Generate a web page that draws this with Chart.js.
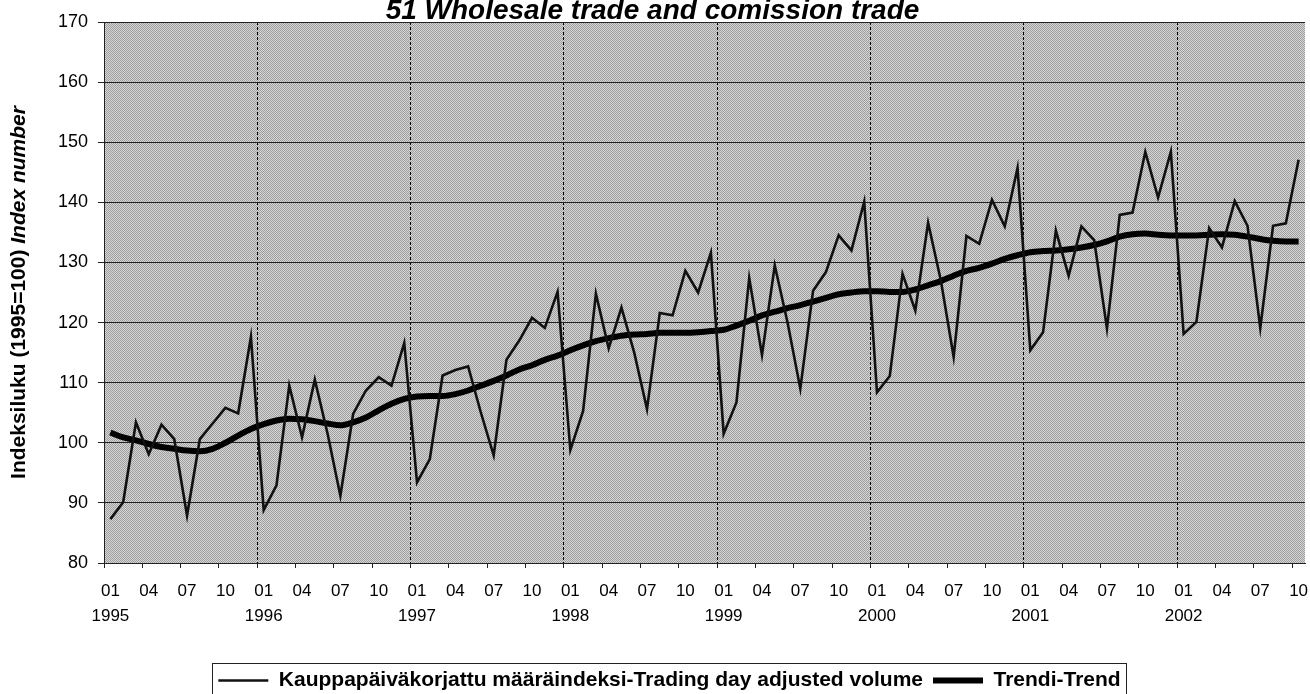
<!DOCTYPE html>
<html>
<head>
<meta charset="utf-8">
<script src="https://cdn.jsdelivr.net/npm/chart.js@4/dist/chart.umd.min.js"></script>
<style>
  html, body { margin: 0; padding: 0; background: #fff; }
  #wrap { width: 1310px; height: 694px; }
</style>
</head>
<body>
<div id="wrap"><canvas id="line_chart" width="1310" height="694"></canvas></div>
<script>
var years = ['1995', '1996', '1997', '1998', '1999', '2000', '2001', '2002'];
var months = ['01', '02', '03', '04', '05', '06', '07', '08', '09', '10', '11', '12'];
var yTicks = [80, 90, 100, 110, 120, 130, 140, 150, 160, 170];

// Kauppapaivakorjattu maaraindeksi, 1995/01 - 2002/10
var volume = [
  87.3, 90.1, 103.4, 98.1, 103.0, 100.6, 87.9, 100.6, 103.2, 105.8, 104.9, 117.6,
  88.8, 92.9, 109.5, 100.9, 110.5, 101.5, 91.2, 104.8, 108.7, 110.9, 109.5, 116.6,
  93.4, 97.3, 111.2, 112.1, 112.7, 105.0, 97.9, 113.8, 117.0, 120.8, 119.1, 125.1,
  98.8, 105.3, 124.8, 115.7, 122.5, 115.0, 105.6, 121.6, 121.2, 128.6, 125.0, 131.6,
  101.5, 106.7, 127.4, 114.6, 129.5, 120.0, 109.0, 125.3, 128.4, 134.5, 132.0, 140.1,
  108.4, 111.1, 128.1, 122.0, 136.6, 127.0, 114.3, 134.4, 133.1, 140.4, 136.0, 145.7,
  115.4, 118.4, 135.3, 127.8, 136.0, 133.7, 119.0, 137.9, 138.3, 148.4, 140.8, 148.4,
  118.1, 120.1, 135.7, 132.5, 140.2, 136.1, 119.1, 136.1, 136.5, 147.1
];
// Trendi
var trend = [
  101.7, 100.9, 100.4, 99.8, 99.3, 99.0, 98.7, 98.6, 99.0, 100.0, 101.2, 102.3,
  103.1, 103.7, 104.0, 103.9, 103.6, 103.2, 102.9, 103.4, 104.2, 105.4, 106.5, 107.3,
  107.7, 107.8, 107.8, 108.1, 108.7, 109.5, 110.3, 111.2, 112.2, 112.9, 113.8, 114.5,
  115.4, 116.2, 116.9, 117.4, 117.8, 118.0, 118.1, 118.3, 118.3, 118.3, 118.4, 118.6,
  118.8, 119.5, 120.3, 121.2, 121.8, 122.4, 122.9, 123.5, 124.1, 124.7, 125.0, 125.2,
  125.2, 125.1, 125.1, 125.5, 126.2, 126.9, 127.8, 128.6, 129.1, 129.8, 130.6, 131.2,
  131.7, 131.9, 132.0, 132.2, 132.5, 132.9, 133.5, 134.3, 134.7, 134.8, 134.6, 134.5,
  134.5, 134.5, 134.6, 134.7, 134.6, 134.3, 133.9, 133.6, 133.5, 133.5
];

var labels = [];
years.forEach(function (y) {
  months.forEach(function (m) { labels.push(y + '-' + m); });
});
labels = labels.slice(0, volume.length);

var FONT = "'Liberation Sans', Arial, sans-serif";

// halftone-like grey fill for the plot area
var pat = document.createElement('canvas');
pat.width = 2; pat.height = 2;
var pc = pat.getContext('2d');
pc.fillStyle = '#d6d6d6'; pc.fillRect(0, 0, 2, 2);
pc.fillStyle = '#9e9e9e'; pc.fillRect(0, 0, 1, 1); pc.fillRect(1, 1, 1, 1);

var plotBg = {
  id: 'plotBg',
  beforeDraw: function (chart) {
    var a = chart.chartArea, ctx = chart.ctx;
    ctx.save();
    ctx.fillStyle = ctx.createPattern(pat, 'repeat');
    ctx.fillRect(a.left, a.top, a.right - a.left, a.bottom - a.top);
    ctx.restore();
  }
};

// y axis title: bold part + bold italic part
var yTitle = {
  id: 'yTitle',
  afterDraw: function (chart) {
    var ctx = chart.ctx, a = chart.chartArea;
    var p1 = 'Indeksiluku (1995=100) ', p2 = 'Index number';
    var f1 = 'bold 21px ' + FONT, f2 = 'italic bold 21px ' + FONT;
    ctx.save();
    ctx.font = f1; var w1 = ctx.measureText(p1).width;
    ctx.font = f2; var w2 = ctx.measureText(p2).width;
    ctx.translate(19, (a.top + a.bottom) / 2);
    ctx.rotate(-Math.PI / 2);
    ctx.fillStyle = '#000';
    ctx.textBaseline = 'middle';
    ctx.textAlign = 'left';
    var x0 = -(w1 + w2) / 2;
    ctx.font = f1; ctx.fillText(p1, x0, 0);
    ctx.font = f2; ctx.fillText(p2, x0 + w1, 0);
    ctx.restore();
  }
};

// move the legend a little to the right, like the original layout
var legendShift = {
  id: 'legendShift',
  afterLayout: function (chart) {
    var lg = chart.legend, dx = 17;
    lg.left += dx; lg.right += dx;
    (lg.legendHitBoxes || []).forEach(function (h) { h.left += dx; });
  }
};

// frame around the legend
var legendBox = {
  id: 'legendBox',
  afterDraw: function (chart) {
    var hb = chart.legend.legendHitBoxes;
    if (!hb || !hb.length) return;
    var l = Math.min.apply(null, hb.map(function (h) { return h.left; })) - 6;
    var r = Math.max.apply(null, hb.map(function (h) { return h.left + h.width; })) + 6;
    var t = hb[0].top - 7;
    var ctx = chart.ctx;
    ctx.save();
    ctx.strokeStyle = '#222';
    ctx.lineWidth = 1;
    ctx.strokeRect(Math.round(l) + 0.5, Math.round(t) + 0.5, Math.round(r - l), 60);
    ctx.restore();
  }
};

new Chart(document.getElementById('line_chart').getContext('2d'), {
  type: 'line',
  data: {
    labels: labels,
    datasets: [{
      label: 'Kauppapäiväkorjattu määräindeksi-Trading day adjusted volume',
      data: volume,
      borderColor: '#111',
      borderWidth: 2.6,
      pointRadius: 0,
      tension: 0,
      fill: false
    }, {
      label: 'Trendi-Trend',
      data: trend,
      borderColor: '#000',
      borderWidth: 6,
      pointRadius: 0,
      cubicInterpolationMode: 'monotone',
      fill: false
    }]
  },
  options: {
    responsive: false,
    animation: false,
    events: [],
    layout: { padding: { left: 0, right: 5, top: 0, bottom: -7 } },
    scales: {
      x: {
        type: 'category',
        offset: true,
        afterFit: function (s) { s.height = 97; s.paddingLeft = 0; s.paddingRight = 0; },
        grid: {
          offset: true,
          drawTicks: true,
          tickLength: 5,
          lineWidth: 1,
          tickWidth: 1,
          color: function (c) { return (c.index % 12 === 0 && c.index > 0 && c.index < volume.length) ? '#000' : 'rgba(0,0,0,0)'; },
          tickColor: function (c) { return c.index % 3 === 0 ? '#222' : 'rgba(0,0,0,0)'; },
          borderDash: [3, 2]
        },
        border: { display: true, color: '#222', width: 1, dash: [3, 2] },
        ticks: {
          autoSkip: false,
          maxRotation: 0,
          minRotation: 0,
          padding: 11,
          color: '#000',
          font: { family: FONT, size: 17, lineHeight: 1.45 },
          callback: function (v, i) {
            if (i % 3 !== 0) return '';
            var m = months[i % 12];
            if (i % 12 === 0) return [m, years[i / 12]];
            return m;
          }
        }
      },
      y: {
        min: yTicks[0],
        max: yTicks[yTicks.length - 1],
        afterFit: function (s) { s.width = 104; },
        afterBuildTicks: function (s) { s.ticks = yTicks.map(function (v) { return { value: v }; }); },
        grid: { color: '#222', lineWidth: 1, tickLength: 6, tickColor: '#222' },
        border: { display: true, color: '#222', width: 1 },
        ticks: {
          padding: 10,
          color: '#000',
          font: { family: FONT, size: 18 }
        }
      }
    },
    plugins: {
      title: {
        display: true,
        text: '51 Wholesale trade and comission trade',
        color: '#000',
        font: { family: FONT, size: 28, weight: 'bold', style: 'italic', lineHeight: 1.2 },
        padding: { top: -6, bottom: -5.6 }
      },
      legend: {
        display: true,
        position: 'bottom',
        labels: {
          usePointStyle: true,
          pointStyle: 'line',
          pointStyleWidth: 50,
          padding: 10,
          color: '#000',
          font: { family: FONT, size: 21, weight: 'bold' }
        }
      },
      tooltip: { enabled: false }
    }
  },
  plugins: [plotBg, yTitle, legendShift, legendBox]
});
</script>
</body>
</html>
